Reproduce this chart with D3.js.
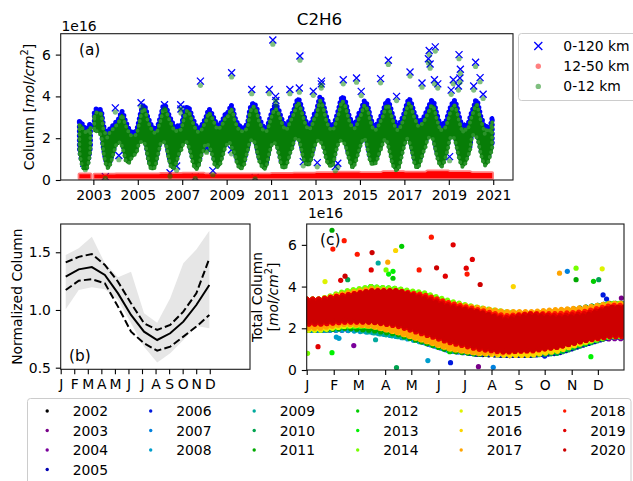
<!DOCTYPE html>
<html><head><meta charset="utf-8">
<script src="https://cdn.jsdelivr.net/npm/d3@7"></script>
<style>body{margin:0;background:#fff;} svg{display:block;}</style>
</head><body><svg id="c" width="633" height="481"></svg>
<script>
// ---------------- DATA (column values in units of 1e16 molec/cm^2) ----------------
const years = [2002,2003,2004,2005,2006,2007,2008,2009,2010,2011,2012,2013,2014,2015,2016,2017,2018,2019,2020];
const monthNames = ["J","F","M","A","M","J","J","A","S","O","N","D"];
const monthMidDoy = [16,46,75,105,136,166,197,228,258,289,319,350];
const monthStartDoy = [1,32,60,91,121,152,182,213,244,274,305,335];
const yearTicks = [2003,2005,2007,2009,2011,2013,2015,2017,2019,2021];
const columnTicks = [0,2,4,6];
const normTicks = [0.5,1.0,1.5];

// monthly lower / upper envelope of the 0-120 km total column, per year
const totalLow = [
  [null,null,null,null,1.5,1.0,0.75,0.7,0.7,1.0,1.6,null],
  [2.5,2.5,2.5,2.4,2.2,1.5,1.0,0.75,0.75,1.0,1.3,1.6],
  [1.9,1.9,2.0,1.8,1.5,1.1,1.0,1.0,1.2,1.3,1.4,1.5],
  [1.9,2.0,2.0,2.0,1.7,1.2,0.8,0.7,0.7,0.8,1.2,1.6],
  [2.0,2.0,2.0,1.8,1.3,0.9,0.75,0.75,0.9,1.2,1.5,1.6],
  [1.9,2.0,2.0,1.8,1.5,1.1,0.8,0.7,0.75,1.0,1.4,1.6],
  [1.9,1.9,1.8,1.6,1.3,0.9,0.8,0.8,0.9,1.2,1.5,1.8],
  [1.9,2.0,1.8,1.6,1.4,1.0,0.8,0.7,0.75,0.9,1.3,1.6],
  [2.0,2.1,2.1,1.9,1.5,1.1,0.9,0.75,0.7,0.8,1.2,1.6],
  [1.9,2.0,1.9,1.7,1.3,0.9,0.75,0.75,0.9,1.2,1.5,1.7],
  [2.1,2.2,2.2,2.0,1.6,1.2,1.0,0.9,0.9,1.1,1.4,1.8],
  [2.0,2.1,2.1,1.9,1.7,1.3,1.0,0.9,0.85,0.9,1.3,1.7],
  [2.0,2.1,2.1,2.0,1.8,1.4,1.1,0.85,0.8,1.0,1.3,1.6],
  [1.9,2.1,2.2,2.0,1.5,1.1,0.95,0.95,1.0,1.2,1.5,1.7],
  [2.0,2.2,2.1,1.8,1.4,1.0,0.8,0.7,0.7,0.9,1.3,1.7],
  [2.0,2.2,2.1,1.8,1.4,1.0,0.8,0.8,1.0,1.3,1.6,1.8],
  [2.2,2.3,2.3,2.2,1.8,1.4,1.1,0.9,0.9,1.1,1.4,1.7],
  [2.2,2.3,2.3,2.1,1.7,1.3,1.0,0.85,0.95,1.1,1.4,1.6],
  [2.3,2.4,2.3,2.2,1.8,1.4,1.1,0.9,0.95,1.1,1.4,1.7]
];
const totalHigh = [
  [null,null,null,null,2.8,2.8,2.6,2.5,2.4,2.6,2.7,null],
  [3.2,3.4,3.4,3.4,3.3,2.6,2.4,2.2,2.4,2.5,2.6,2.7],
  [2.8,2.9,3.1,3.3,3.1,2.8,2.6,2.4,2.3,2.3,2.3,2.4],
  [2.8,3.2,3.5,3.6,3.4,3.0,2.8,2.6,2.5,2.4,2.5,2.8],
  [3.1,3.5,3.6,3.5,3.2,3.0,2.8,2.6,2.5,2.6,2.6,2.6],
  [3.0,3.3,3.5,3.5,3.3,3.0,2.8,2.6,2.5,2.5,2.6,2.8],
  [2.9,3.2,3.4,3.3,3.1,2.9,2.7,2.6,2.7,2.8,3.0,3.2],
  [3.2,3.4,3.6,3.4,3.0,2.8,2.6,2.6,2.5,2.5,2.6,2.8],
  [3.4,3.6,3.7,3.6,3.4,3.0,2.8,2.6,2.5,2.5,2.7,3.0],
  [3.3,3.5,3.6,3.5,3.3,3.0,2.8,2.6,2.6,2.8,3.0,3.2],
  [3.4,3.7,3.9,3.8,3.5,3.2,2.9,2.7,2.6,2.7,2.9,3.2],
  [3.3,3.7,4.0,3.9,3.6,3.2,2.9,2.7,2.6,2.6,2.8,3.1],
  [3.4,3.8,4.0,3.9,3.7,3.3,3.0,2.8,2.7,2.7,2.9,3.2],
  [3.3,3.6,3.8,3.7,3.5,3.1,2.8,2.6,2.6,2.7,2.9,3.1],
  [3.3,3.6,3.8,3.8,3.5,3.2,2.9,2.7,2.6,2.7,2.9,3.1],
  [3.4,3.7,3.9,3.8,3.5,3.2,3.0,2.8,2.8,2.9,3.0,3.2],
  [3.4,3.6,3.8,3.8,3.6,3.2,2.9,2.6,2.7,2.7,2.8,3.1],
  [3.4,3.6,3.8,3.8,3.5,3.1,2.8,2.5,2.7,2.6,2.7,3.0],
  [3.3,3.5,3.8,3.8,3.4,3.0,2.8,2.4,2.6,2.5,2.6,3.0]
];
// 12-50 km (stratospheric) column range per year
const stratLow  = [0.08,0.08,0.08,0.08,0.08,0.08,0.08,0.08,0.08,0.08,0.08,0.08,0.08,0.08,0.08,0.08,0.08,0.08,0.08];
const stratHigh = [0.28,0.26,0.28,0.28,0.30,0.31,0.28,0.28,0.28,0.30,0.31,0.33,0.36,0.34,0.38,0.36,0.42,0.38,0.34];

// isolated observations [year, day of year, total column]
const outliers = [
  [2002,209,0.80],[2002,234,0.69],
  [2003,198,0.16],[2003,362,3.45],
  [2004,55,1.17],
  [2005,55,3.70],
  [2006,75,3.60],[2006,166,0.35],[2006,274,0.67],[2006,341,3.60],[2006,345,3.40],
  [2007,215,0.13],[2007,300,4.73],
  [2008,35,1.58],[2008,38,1.52],[2008,140,0.45],
  [2009,80,1.45],[2009,83,5.13],
  [2010,48,4.33],[2010,104,0.11],[2010,336,4.33],
  [2011,30,6.70],[2011,75,4.00],[2011,80,3.80],[2011,310,4.33],
  [2012,100,4.40],[2012,110,5.93],[2012,165,0.88],[2012,330,4.25],
  [2013,30,0.83],[2013,95,4.60],[2013,100,4.73],[2013,327,0.64],
  [2014,2,0.80],[2014,92,4.80],[2014,310,4.88],
  [2015,22,4.24],[2015,340,4.85],
  [2016,103,5.73],[2016,238,4.00],
  [2017,94,5.17],[2017,291,4.64],
  [2018,31,5.80],[2018,44,6.20],[2018,59,5.55],[2018,130,4.80],[2018,144,6.37],[2018,185,4.60],
  [2019,14,1.12],[2019,40,4.30],[2019,75,4.80],[2019,160,4.50],[2019,169,6.00],[2019,184,4.88],[2019,191,5.30],
  [2020,45,4.50],[2020,76,5.63],[2020,150,4.90],[2020,200,4.10]
];

// normalized seasonal cycle (panel b)
const normX     = [0.37,1.33,2.30,3.26,4.23,5.19,6.15,7.12,8.08,9.05,10.01,10.97];
const normMean  = [1.289,1.352,1.372,1.303,1.144,0.957,0.812,0.740,0.798,0.899,1.043,1.217];
const normUpper = [1.413,1.460,1.485,1.390,1.245,1.058,0.885,0.827,0.870,0.986,1.144,1.447];
const normLower = [1.173,1.254,1.266,1.231,1.029,0.812,0.711,0.648,0.682,0.769,0.856,0.957];
const normMax   = [1.476,1.534,1.635,1.404,1.283,1.332,0.971,0.890,1.101,1.404,1.525,1.687];
const normMin   = [1.006,1.173,1.196,1.179,1.087,0.885,0.682,0.544,0.625,0.740,0.861,0.841];

// nipy_spectral colours per year
const yearColors = ["#000000","#780089","#7a009b","#0000b2","#0019dd","#0080dd","#009ecd","#00aa9d","#00a34f","#00a900","#00cd00","#00f100","#76ff00","#def300","#fbd500","#ffa400","#ff1800","#e10000","#cd0000"];

// ---------------- DRAWING ----------------
const FONT = '"DejaVu Sans", "Liberation Sans", sans-serif';
const FS = 13.9;
const svg = d3.select("#c").attr("font-family", FONT);

function styleAxis(g){
  g.select(".domain").remove();
  g.attr("font-family", FONT).attr("font-size", FS);
  g.selectAll(".tick line").attr("stroke","#000").attr("stroke-width",1.1);
  g.selectAll(".tick text").attr("fill","#000");
}
function frame(b){
  svg.append("rect").attr("x",b.l).attr("y",b.t).attr("width",b.r-b.l).attr("height",b.b-b.t)
    .attr("fill","none").attr("stroke","#1a1a1a").attr("stroke-width",1.1);
}
function clip(id,b){
  svg.append("clipPath").attr("id",id).append("rect").attr("x",b.l).attr("y",b.t).attr("width",b.r-b.l).attr("height",b.b-b.t);
}

// ===== Panel (a) =====
const A = {l:60.7, r:513, t:33.7, b:180};
const xA = d3.scaleLinear().domain([2001.53, 2021.89]).range([A.l, A.r]);
const yA = d3.scaleLinear().domain([0, 7]).range([A.b, A.t]);
clip("clipA", A);

const series = [];
years.forEach((yr, i) => {
  monthMidDoy.forEach((doy, m) => {
    const lo = totalLow[i][m], hi = totalHigh[i][m];
    series.push({t: yr + (doy-1)/365, lo, hi, sl: stratLow[i], sh: stratHigh[i],
                 sm: (stratLow[i]+stratHigh[i])/2, ok: lo != null});
  });
});
const stratMeanAll = d3.mean(stratLow.map((v,i)=>(v+stratHigh[i])/2));

const gA = svg.append("g").attr("clip-path","url(#clipA)");
const areaA = (f0,f1) => d3.area().defined(d=>d.ok).x(d=>xA(d.t)).y0(d=>yA(f0(d))).y1(d=>yA(f1(d)));

// 0-120 km (blue x)
const blueD = areaA(d=>d.lo, d=>d.hi)(series);
gA.append("path").attr("d", blueD).attr("fill","#0000ff").attr("stroke","#0000ff").attr("stroke-width",2.5).attr("stroke-linejoin","round");
gA.append("path").attr("d", blueD).attr("fill","none").attr("stroke","#0000ff").attr("stroke-width",5)
  .attr("stroke-dasharray","0,4.5").attr("stroke-linecap","round");
const xMark = "M-3.5,-3.5L3.5,3.5M-3.5,3.5L3.5,-3.5";
gA.selectAll(".ox").data(outliers).join("path")
  .attr("transform", d=>`translate(${xA(d[0]+(d[1]-1)/365)},${yA(d[2])})`)
  .attr("d", xMark).attr("stroke","#0000ff").attr("stroke-width",1.3).attr("fill","none");
// 12-50 km (red)
gA.append("path").datum(series).attr("d", areaA(d=>d.sl, d=>d.sh))
  .attr("fill","#ff0000").attr("stroke","#ff0000").attr("stroke-opacity",0.5)
  .attr("stroke-width",3.5).attr("stroke-linejoin","round");
// 0-12 km (green)
const greenD = areaA(d=>d.lo-d.sm, d=>d.hi-d.sm)(series);
gA.append("path").attr("d", greenD)
  .attr("fill","#077d07").attr("stroke","#077d07").attr("stroke-width",2).attr("stroke-linejoin","round");
gA.append("path").attr("d", greenD).attr("fill","none").attr("stroke","#2a922a").attr("stroke-width",4)
  .attr("stroke-dasharray","0,5").attr("stroke-linecap","round");
gA.selectAll(".og").data(outliers).join("circle")
  .attr("cx", d=>xA(d[0]+(d[1]-1)/365)).attr("cy", d=>yA(Math.max(d[2]-stratMeanAll, d[2]*0.5)))
  .attr("r",2.6).attr("fill","#008000").attr("fill-opacity",0.5);
frame(A);

svg.append("g").attr("transform",`translate(0,${A.b})`)
  .call(d3.axisBottom(xA).tickValues(yearTicks).tickFormat(d3.format("d")).tickSize(4.9).tickPadding(4.9))
  .call(styleAxis);
svg.append("g").attr("transform",`translate(${A.l},0)`)
  .call(d3.axisLeft(yA).tickValues(columnTicks).tickFormat(d3.format("d")).tickSize(4.9).tickPadding(4.9))
  .call(styleAxis);

svg.append("text").attr("x",319.5).attr("y",25).attr("text-anchor","middle").attr("font-size",16.7).text("C2H6");
svg.append("text").attr("x",61.5).attr("y",30.5).attr("font-size",FS).text("1e16");
svg.append("text").attr("x",79).attr("y",54.5).attr("font-size",15.3).text("(a)");

function unitLabel(sel, prefix){
  if(prefix) sel.append("tspan").text(prefix);
  sel.append("tspan").text("[");
  sel.append("tspan").attr("font-style","italic").text("mol/cm");
  sel.append("tspan").attr("font-size",9.7).attr("dy",-5.5).text("2");
  sel.append("tspan").attr("dy",5.5).text("]");
}
const ylA = svg.append("text").attr("transform","translate(33.5,107) rotate(-90)")
  .attr("text-anchor","middle").attr("font-size",FS);
unitLabel(ylA, "Column ");

// legend (a)
const lgA = svg.append("g");
lgA.append("rect").attr("x",518.5).attr("y",33.5).attr("width",130).attr("height",67).attr("rx",3)
  .attr("fill","#fff").attr("stroke","#cccccc").attr("stroke-width",1);
const legA = [{label:"0-120 km", kind:"x"},{label:"12-50 km", kind:"r"},{label:"0-12 km", kind:"g"}];
legA.forEach((e,i)=>{
  const cy = 46 + i*20.2;
  if(e.kind==="x") lgA.append("path").attr("transform",`translate(538.3,${cy})`).attr("d","M-4,-4L4,4M-4,4L4,-4")
     .attr("stroke","#0000ff").attr("stroke-width",1.3);
  else lgA.append("circle").attr("cx",538.3).attr("cy",cy).attr("r",2.7)
     .attr("fill", e.kind==="r" ? "#ff0000" : "#008000").attr("fill-opacity",0.5);
  lgA.append("text").attr("x",563.3).attr("y",cy+5).attr("font-size",FS).text(e.label);
});

// ===== Panel (b) =====
const B = {l:60.7, r:250, t:224, b:369.3};
const xB = d3.scaleLinear().domain([0, 13.97]).range([B.l, B.r]);
const yB = d3.scaleLinear().domain([0.486, 1.745]).range([B.b, B.t]);
const idx = normX.map((_,i)=>i);
svg.append("path").datum(idx).attr("d", d3.area().x(i=>xB(normX[i])).y0(i=>yB(normMin[i])).y1(i=>yB(normMax[i])))
  .attr("fill","#e6e6e6");
const lineB = arr => d3.line().x(i=>xB(normX[i])).y(i=>yB(arr[i]));
svg.append("path").datum(idx).attr("d", lineB(normMean)).attr("fill","none").attr("stroke","#000").attr("stroke-width",2);
[normUpper, normLower].forEach(arr=>{
  svg.append("path").datum(idx).attr("d", lineB(arr)).attr("fill","none").attr("stroke","#000")
    .attr("stroke-width",2).attr("stroke-dasharray","7.4,3.2");
});
frame(B);
svg.append("g").attr("transform",`translate(0,${B.b})`)
  .call(d3.axisBottom(xB).tickValues(monthNames.map((_,i)=>i)).tickFormat(i=>monthNames[i]).tickSize(4.9).tickPadding(4.9))
  .call(styleAxis);
svg.append("g").attr("transform",`translate(${B.l},0)`)
  .call(d3.axisLeft(yB).tickValues(normTicks).tickFormat(d3.format(".1f")).tickSize(4.9).tickPadding(4.9))
  .call(styleAxis);
svg.append("text").attr("transform","translate(21.5,296.6) rotate(-90)").attr("text-anchor","middle")
  .attr("font-size",FS).text("Normalized Column");
svg.append("text").attr("x",69).attr("y",361).attr("font-size",15.3).text("(b)");

// ===== Panel (c) =====
const C = {l:306.7, r:624, t:224, b:370};
const xC = d3.scaleLinear().domain([1, 365]).range([C.l, C.r]);
const yC = d3.scaleLinear().domain([0, 7]).range([C.b, C.t]);
clip("clipC", C);
const gC = svg.append("g").attr("clip-path","url(#clipC)");
const areaC = d3.area().defined(d=>d.lo!=null).x(d=>xC(d.doy)).y0(d=>yC(d.lo)).y1(d=>yC(d.hi));
years.forEach((yr,i)=>{
  const pts = monthMidDoy.map((doy,m)=>({doy, lo: totalLow[i][m], hi: totalHigh[i][m]}));
  if(pts[0].lo!=null) pts.unshift({doy:1, lo:pts[0].lo, hi:pts[0].hi});
  const last = pts[pts.length-1];
  if(last.lo!=null) pts.push({doy:365, lo:last.lo, hi:last.hi});
  const dPath = areaC(pts);
  gC.append("path").attr("d", dPath).attr("fill",yearColors[i]).attr("stroke",yearColors[i])
    .attr("stroke-width",1.5).attr("stroke-linejoin","round");
  gC.append("path").attr("d", dPath).attr("fill","none").attr("stroke",yearColors[i])
    .attr("stroke-width",5.2).attr("stroke-dasharray","0,6").attr("stroke-linecap","round");
  gC.selectAll(null).data(outliers.filter(d=>d[0]===yr)).join("circle")
    .attr("cx", d=>xC(d[1])).attr("cy", d=>yC(d[2])).attr("r",2.6).attr("fill",yearColors[i]);
});
frame(C);
svg.append("g").attr("transform",`translate(0,${C.b})`)
  .call(d3.axisBottom(xC).tickValues(monthStartDoy).tickFormat((d,i)=>monthNames[i]).tickSize(4.9).tickPadding(4.9))
  .call(styleAxis);
svg.append("g").attr("transform",`translate(${C.l},0)`)
  .call(d3.axisLeft(yC).tickValues(columnTicks).tickFormat(d3.format("d")).tickSize(4.9).tickPadding(4.9))
  .call(styleAxis);
svg.append("text").attr("x",308).attr("y",218.3).attr("font-size",FS).text("1e16");
svg.append("text").attr("x",320).attr("y",244.5).attr("font-size",15.3).text("(c)");
svg.append("text").attr("transform","translate(261.5,297) rotate(-90)").attr("text-anchor","middle")
  .attr("font-size",FS).text("Total Column");
const ylC = svg.append("text").attr("transform","translate(277.5,297) rotate(-90)")
  .attr("text-anchor","middle").attr("font-size",FS);
unitLabel(ylC, null);

// ===== bottom legend =====
const lgB = svg.append("g");
lgB.append("rect").attr("x",27.5).attr("y",398.5).attr("width",603.5).attr("height",100).attr("rx",3)
  .attr("fill","#fff").attr("stroke","#cccccc").attr("stroke-width",1);
years.forEach((yr,i)=>{
  const col = i<4 ? 0 : 1 + Math.floor((i-4)/3);
  const row = i<4 ? i : (i-4)%3;
  const cy = 411 + row*19.5;
  lgB.append("circle").attr("cx",47.2 + col*103.5).attr("cy",cy).attr("r",1.7).attr("fill",yearColors[i]);
  lgB.append("text").attr("x",72.7 + col*103.5).attr("y",cy+5).attr("font-size",FS).text(yr);
});
</script>
</body></html>
